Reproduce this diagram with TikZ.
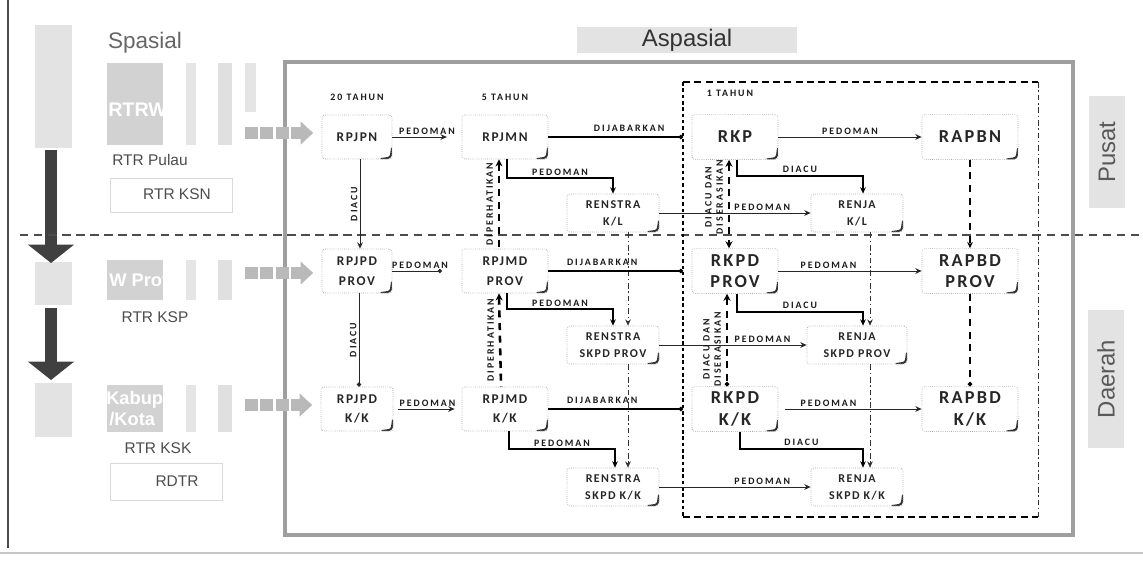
\documentclass[tikz,border=0pt]{standalone}
\usepackage{fontspec}
\setmainfont{Liberation Sans}
\newfontfamily\bxfont[LetterSpace=12]{Carlito}
\newfontfamily\lbfont[LetterSpace=20]{Carlito}
\usetikzlibrary{arrows.meta,calc}

\begin{document}
\begin{tikzpicture}[x=0.025cm,y=-0.025cm,
  bx/.style={draw=gray!70,densely dotted,line width=0.5pt,rounded corners=2pt,fill=white,align=center,inner sep=0pt,text=black!85,
    path picture={\draw[solid,black!80,line width=1.4pt] ([xshift=-8pt]path picture bounding box.south east) -- ([xshift=-1pt,yshift=1pt]path picture bounding box.south east) -- ([yshift=8pt]path picture bounding box.south east);}},
  sm/.style={bx,font={\bxfont\bfseries\fontsize{9.5}{14}\selectfont},minimum height=1.1cm},
  md/.style={bx,font={\bxfont\bfseries\fontsize{8.5}{12}\selectfont},minimum height=0.95cm,minimum width=2.3cm},
  bg/.style={bx,font={\bxfont\bfseries\fontsize{13}{15}\selectfont},minimum height=1.12cm},
  lbl/.style={font={\lbfont\bfseries\fontsize{7}{8}\selectfont},inner sep=1.5pt,text=black!90},
  rl/.style={lbl,rotate=90},
  cn/.style={draw=black!85,line width=0.7pt},
  tk/.style={draw=black,line width=1.3pt},
  hd/.style={draw=black,line width=1.8pt,dash pattern=on 5pt off 4pt},
  dd/.style={draw=black!80,line width=0.6pt,dash pattern=on 4pt off 2pt on 1pt off 2pt},
  ar/.style={-{Stealth[length=4.5pt,width=4pt]}},
  dt/.style={-{Circle[length=3pt]}},
  tag/.style={fill=gray!22,inner sep=0pt,font=\fontsize{17}{19}\selectfont,text=black!80},
  sp/.style={font=\fontsize{11}{13}\selectfont,text=black!70,inner sep=1pt},
  wt/.style={font=\bfseries\fontsize{13}{15}\selectfont,text=white,inner sep=0pt,align=left},
  arw/.style={draw=black!75,line width=9pt,-{Triangle[width=32pt,length=13pt]}},
  ga/.style={draw=gray!55,line width=9pt,dash pattern=on 9pt off 2pt,-{Triangle[width=16pt,length=9pt]}}]
  \useasboundingbox (0,0) rectangle (1143,568);
  \def\cA{357}\def\cB{505}\def\cC{613}\def\cD{735}\def\cE{857}\def\cF{970}
  \def\rA{137}\def\rB{271}\def\rC{409}
  \def\sA{213}\def\sB{345}\def\sC{487}
  % ---------- Spasial (faded) ----------
  \draw[black!70,line width=0.9pt] (8,0) -- (8,548);
  \draw[gray!45,line width=1pt] (0,553) -- (1143,553);
  \foreach \ya/\yb in {25/148,262/305,383/437} {
    \fill[gray!22] (35,\ya) rectangle (72,\yb);
  }
  \foreach \ya/\yb in {63/145,260/300,385/432} {
    \fill[gray!35] (107,\ya) rectangle (163,\yb);
    \fill[gray!20] (186,\ya) rectangle (196,\yb);
    \fill[gray!24] (218,\ya) rectangle (232,\yb);
  }
  \fill[gray!20] (245,63) rectangle (256,112);
  \begin{scope}
    \clip (107,63) rectangle (163,145);
    \node[wt,anchor=west,font=\bfseries\fontsize{14}{15}\selectfont] (rtrwn) at (108,110) {RTRWN};
  \end{scope}
  \begin{scope}
    \clip (107,260) rectangle (163,300);
    \node[wt,anchor=west] (rtrwp) at (109,280) {W Provinsi};
  \end{scope}
  \begin{scope}
    \clip (107,385) rectangle (163,432);
    \node[wt,anchor=west] (rtrwk) at (106,409) {Kabupaten\\\,/Kota};
  \end{scope}
  \node[sp,font=\fontsize{16}{18}\selectfont,text=black!60] (spasial) at (145,43) {Spasial};
  \draw[gray!30,line width=0.5pt] (110,178) rectangle (232,212);
  \draw[gray!30,line width=0.5pt] (110,463) rectangle (222,500);
  \node[sp] (pulau) at (150,160) {RTR Pulau};
  \node[sp] (ksn) at (177,194) {RTR KSN};
  \node[sp] (ksp) at (155,317) {RTR KSP};
  \node[sp] (ksk) at (158,448) {RTR KSK};
  \node[sp] (rdtr) at (177,481) {RDTR};
  \draw[arw] (51,150) -- (51,263);
  \draw[arw] (51,308) -- (51,380);
  % ---------- frame, tags ----------
  \draw[gray!75,line width=2.6pt] (285,62) rectangle (1073,535);
  \node[tag,minimum width=5.5cm,minimum height=0.65cm] (asp) at (687,40) {Aspasial};
  \node[tag,rotate=90,minimum width=2.8cm,minimum height=0.88cm,text=black!65] (pusat) at (1107,152) {Pusat};
  \node[tag,rotate=90,minimum width=3.45cm,minimum height=0.92cm,text=black!65] (daerah) at (1106,379) {Daerah};
  \draw[gray!60!black,line width=1pt,dash pattern=on 6pt off 4pt] (20,235) -- (1143,235);
  % ---------- 1 tahun box ----------
  \coordinate (tl) at (683,82); \coordinate (br) at (1038,517);
  \draw[black,line width=1.6pt,dash pattern=on 2.5pt off 2pt] (tl) -- (tl |- br);
  \draw[black,line width=1pt,dash pattern=on 5pt off 3pt] (tl) -- (tl -| br);
  \draw[dd] (tl -| br) -- (br);
  \draw[black,line width=1.3pt,dash pattern=on 5pt off 3pt] (tl |- br) -- (br);
  \node[lbl] (t20) at (357,97) {20 TAHUN};
  \node[lbl] (t5) at (505,97) {5 TAHUN};
  \node[lbl] (t1) at (730,93) {1 TAHUN};
  % ---------- nodes ----------
  \node[sm,minimum width=1.75cm] (RPJPN) at (\cA,\rA) {RPJPN};
  \node[sm,minimum width=2.15cm] (RPJMN) at (\cB,\rA) {RPJMN};
  \node[bg,minimum width=2.15cm] (RKP) at (\cD,\rA) {RKP};
  \node[bg,minimum width=2.4cm] (RAPBN) at (\cF,\rA) {RAPBN};
  \node[md] (RENSTRAKL) at (\cC,\sA) {RENSTRA\\K/L};
  \node[md] (RENJAKL) at (\cE,\sA) {RENJA\\K/L};
  \node[sm,minimum width=1.75cm] (RPJPDP) at (\cA,\rB) {RPJPD\\PROV};
  \node[sm,minimum width=2.15cm] (RPJMDP) at (\cB,\rB) {RPJMD\\PROV};
  \node[bg,minimum width=2.15cm] (RKPDP) at (\cD,\rB) {RKPD\\PROV};
  \node[bg,minimum width=2.4cm] (RAPBDP) at (\cF,\rB) {RAPBD\\PROV};
  \node[md] (RENSTRAP) at (\cC,\sB) {RENSTRA\\SKPD PROV};
  \node[md,minimum width=2.5cm] (RENJAP) at (\cE,\sB) {RENJA\\SKPD PROV};
  \node[sm,minimum width=1.8cm] (RPJPDK) at (\cA,\rC) {RPJPD\\K/K};
  \node[sm,minimum width=2.15cm] (RPJMDK) at (\cB,\rC) {RPJMD\\K/K};
  \node[bg,minimum width=2.15cm] (RKPDK) at (\cD,\rC) {RKPD\\K/K};
  \node[bg,minimum width=2.4cm] (RAPBDK) at (\cF,\rC) {RAPBD\\K/K};
  \node[md] (RENSTRAK) at (\cC,\sC) {RENSTRA\\SKPD K/K};
  \node[md] (RENJAK) at (\cE,\sC) {RENJA\\SKPD K/K};
  % ---------- spatial arrows into RPJP ----------
  \coordinate (gA) at (245,133); \coordinate (gB) at (245,273); \coordinate (gC) at (245,405);
  \draw[ga,shorten >=6pt] (gA) -- (RPJPN.west |- gA);
  \draw[ga,shorten >=6pt] (gB) -- (RPJPDP.west |- gB);
  \draw[ga,shorten >=6pt] (gC) -- (RPJPDK.west |- gC);
  % ---------- row 1 ----------
  \draw[cn,ar,shorten >=10.5pt] (RPJPN.east) -- node[lbl,above] (l1) {PEDOMAN} (RPJMN.west);
  \draw[tk,dt] (RPJMN.east) -- node[lbl,above=2pt,pos=0.6] (l2) {DIJABARKAN} (RPJMN.east -| tl);
  \draw[cn,ar] (RKP.east) -- node[lbl,above] (l3) {PEDOMAN} (RAPBN.west);
  \draw[tk,ar] ($(RPJMN.south)+(2,0)$) -- ++(0,19) -| node[lbl,above,pos=0.25] (l4) {PEDOMAN} (RENSTRAKL.north);
  \draw[cn,ar] (RENSTRAKL.east) -- node[lbl,above,pos=0.68] (l5) {PEDOMAN} (RENJAKL.west);
  \draw[tk,ar] ($(RKP.south)+(2,0)$) -- ++(0,16) -| node[lbl,above,pos=0.25] (l6) {DIACU} ($(RENJAKL.north)+(6,0)$);
  % ---------- verticals 1-2 ----------
  \draw[cn,ar] ($(RPJPN.south)+(3,0)$) -- node[rl,above] (v1) {DIACU} ($(RPJPDP.north)+(3,0)$);
  \draw[hd,{Stealth[length=5pt,width=5pt]}-] ($(RPJMN.south)+(-6,0)$) -- node[rl,above=2pt] (v2) {DIPERHATIKAN} ($(RPJMDP.north)+(-6,0)$);
  \draw[dd,ar] ($(RENSTRAKL.south)+(15,0)$) -- ($(RENSTRAP.north)+(15,0)$);
  \draw[hd,{Stealth[length=5pt,width=5pt]}-{Stealth[length=5pt,width=5pt]}] ($(RKP.south)+(-6,0)$) -- node[rl,above=2pt,align=center,pos=0.42] (v3) {DIACU DAN\\DISERASIKAN} ($(RKPDP.north)+(-6,0)$);
  \draw[dd,ar] ($(RENJAKL.south)+(13,0)$) -- ($(RENJAP.north)+(13,0)$);
  \draw[hd,ar] (RAPBN.south) -- (RAPBDP.north);
  % ---------- row 2 ----------
  \draw[cn,dt,shorten >=14pt] (RPJPDP.east) -- node[lbl,above,pos=0.4] (l7) {PEDOMAN} (RPJMDP.west);
  \draw[tk,dt] (RPJMDP.east) -- node[lbl,above=2pt,pos=0.4] (l8) {DIJABARKAN} (RPJMDP.east -| tl);
  \draw[cn,ar] (RKPDP.east) -- node[lbl,above,pos=0.35] (l9) {PEDOMAN} (RAPBDP.west);
  \draw[tk,ar] ($(RPJMDP.south)+(2,0)$) -- ++(0,16) -| node[lbl,above,pos=0.25] (l10) {PEDOMAN} (RENSTRAP.north);
  \draw[cn,ar] (RENSTRAP.east) -- node[lbl,above,pos=0.7] (l11) {PEDOMAN} (RENJAP.west);
  \draw[tk,ar] ($(RKPDP.south)+(2,0)$) -- ++(0,18) -| node[lbl,above,pos=0.25] (l12) {DIACU} ($(RENJAP.north)+(6,0)$);
  % ---------- verticals 2-3 ----------
  \draw[cn,dt] ($(RPJPDP.south)+(2,0)$) -- node[rl,above] (v4) {DIACU} ($(RPJPDK.north)+(2,0)$);
  \draw[hd,{Stealth[length=5pt,width=5pt]}-] ($(RPJMDP.south)+(-6,0)$) -- node[rl,above=2pt] (v5) {DIPERHATIKAN} ($(RPJMDK.north)+(-4,0)$);
  \draw[dd,ar] ($(RENSTRAP.south)+(15,0)$) -- ($(RENSTRAK.north)+(15,0)$);
  \draw[hd,{Stealth[length=5pt,width=5pt]}-{Circle[length=3pt]}] ($(RKPDP.south)+(-8,0)$) -- node[rl,above=2pt,align=center,pos=0.6] (v6) {DIACU DAN\\DISERASIKAN} ($(RKPDK.north)+(-8,0)$);
  \draw[dd,ar] ($(RENJAP.south)+(13,0)$) -- ($(RENJAK.north)+(13,0)$);
  \draw[hd,dt] (RAPBDP.south) -- (RAPBDK.north);
  % ---------- row 3 ----------
  \draw[cn,ar,shorten <=3.5pt,shorten >=5pt] (RPJPDK.east) -- node[lbl,above] (l13) {PEDOMAN} (RPJMDK.west);
  \draw[tk,dt] (RPJMDK.east) -- node[lbl,above=2pt,pos=0.4] (l14) {DIJABARKAN} (RPJMDK.east -| tl);
  \draw[cn,ar,shorten <=5pt] (RKPDK.east) -- node[lbl,above,pos=0.35] (l15) {PEDOMAN} (RAPBDK.west);
  \draw[tk,ar] ($(RPJMDK.south)+(4,0)$) -- ++(0,18) -| node[lbl,above,pos=0.25] (l16) {PEDOMAN} ($(RENSTRAK.north)+(2,0)$);
  \draw[cn,ar] (RENSTRAK.east) -- node[lbl,above,pos=0.68] (l17) {PEDOMAN} (RENJAK.west);
  \draw[tk,ar] ($(RKPDK.south)+(5,0)$) -- ++(0,17) -| node[lbl,above,pos=0.25] (l18) {DIACU} ($(RENJAK.north)+(6,0)$);
\end{tikzpicture}
\end{document}
